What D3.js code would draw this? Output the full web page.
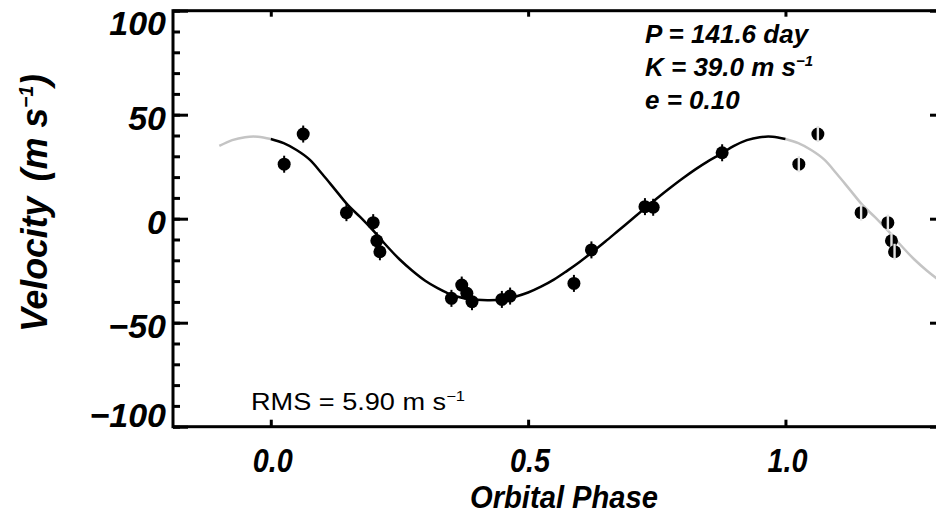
<!DOCTYPE html>
<html>
<head>
<script src="https://cdnjs.cloudflare.com/ajax/libs/d3/7.8.5/d3.min.js"></script>
<style>
  body { margin: 0; background: #fff; }
  text { font-family: "Liberation Sans", Arial, sans-serif; }
</style>
</head>
<body>
<svg id="chart" width="936" height="519"></svg>
<script>
// measured radial velocities, folded on orbital phase
const phase = [0.026, 0.063, 0.147, 0.199, 0.206, 0.212, 0.351, 0.371, 0.381, 0.391, 0.449, 0.465, 0.589, 0.623, 0.727, 0.743, 0.877]
const velocity = [26.2, 40.7, 2.9, -1.9, -10.6, -15.9, -38.3, -31.9, -35.9, -39.9, -38.8, -37.2, -31.1, -15.0, 5.8, 5.5, 31.7]

// orbit fit, one period
const modelPhase = [0, 0.025, 0.05, 0.075, 0.1, 0.125, 0.15, 0.175, 0.2, 0.225, 0.25, 0.275, 0.3, 0.325, 0.35, 0.375, 0.4, 0.425, 0.45, 0.475,
  0.5, 0.525, 0.55, 0.575, 0.6, 0.625, 0.65, 0.675, 0.7, 0.725, 0.75, 0.775, 0.8, 0.825, 0.85, 0.875, 0.9, 0.925, 0.95, 0.975, 1.0]
const modelVelocity = [38.3, 36.3, 33.0, 28.5, 21.5, 14.0, 6.5, 0.5, -6.0, -13.0, -19.5, -25.0, -29.8, -33.5, -36.5, -38.2, -39.0, -39.2, -38.8, -37.5,
  -35.5, -32.7, -29.3, -25.2, -20.8, -16.0, -11.0, -5.8, -0.6, 4.6, 9.7, 14.6, 19.3, 23.7, 27.7, 31.2, 35.0, 37.8, 39.2, 39.4, 38.3]

const yTicks = [-100, -50, 0, 50, 100]
const yMinorTicks = d3.range(-100, 101, 10)
const xTicks = [0.0, 0.5, 1.0]
const xTickLabels = ["0.0", "0.5", "1.0"]
const fitLines = [["P = 141.6 day", ""], ["K = 39.0 m s", "\u22121"], ["e = 0.10", ""]]

const svg = d3.select("#chart")
const plotLeft = 173, plotRight = 945, plotTop = 10.7, plotBottom = 426.7
const x = d3.scaleLinear().domain([-0.19, 1.31]).range([plotLeft, plotRight])
const y = d3.scaleLinear().domain([-100, 100]).range([plotBottom, plotTop])

svg.append("defs").append("clipPath").attr("id", "plotArea")
  .append("rect").attr("x", plotLeft).attr("y", plotTop).attr("width", plotRight - plotLeft).attr("height", plotBottom - plotTop)

// model curve: black over the folded period, grey for the repeated parts
const line = d3.line().x(d => x(d[0])).y(d => y(d[1])).curve(d3.curveCatmullRom.alpha(0.5))
const model = modelPhase.map((p, i) => [p, modelVelocity[i]])
const before = model.filter(d => d[0] >= 0.9).map(d => [d[0] - 1, d[1]])
const after = model.filter(d => d[0] <= 0.4).map(d => [d[0] + 1, d[1]])
const curves = svg.append("g").attr("clip-path", "url(#plotArea)")
curves.append("path").attr("d", line(before)).attr("fill", "none").attr("stroke", "#c4c4c4").attr("stroke-width", 2.5)
curves.append("path").attr("d", line(after)).attr("fill", "none").attr("stroke", "#c4c4c4").attr("stroke-width", 2.5)
curves.append("path").attr("d", line(model)).attr("fill", "none").attr("stroke", "#000").attr("stroke-width", 2.5)

// points
const pts = phase.map((p, i) => ({ p: p, v: velocity[i] }))
const g = svg.append("g")
pts.forEach(d => {
  g.append("line").attr("x1", x(d.p)).attr("x2", x(d.p)).attr("y1", y(d.v) - 8.5).attr("y2", y(d.v) + 8.5)
    .attr("stroke", "#000").attr("stroke-width", 2)
  g.append("circle").attr("cx", x(d.p)).attr("cy", y(d.v)).attr("r", 6.5).attr("fill", "#000")
})
// repeated points past phase 1
pts.filter(d => d.p + 1 <= 1.3).forEach(d => {
  g.append("circle").attr("cx", x(d.p + 1)).attr("cy", y(d.v)).attr("r", 6.5).attr("fill", "#000")
  g.append("line").attr("x1", x(d.p + 1)).attr("x2", x(d.p + 1)).attr("y1", y(d.v) - 8).attr("y2", y(d.v) + 8)
    .attr("stroke", "#e4e4e4").attr("stroke-width", 2.4)
})

// frame
svg.append("rect").attr("x", plotLeft).attr("y", plotTop).attr("width", plotRight - plotLeft).attr("height", plotBottom - plotTop)
  .attr("fill", "none").attr("stroke", "#000").attr("stroke-width", 3)

function ticks(axis, tx, ty) {
  const a = svg.append("g").attr("transform", `translate(${tx},${ty})`).call(axis)
  a.select(".domain").remove()
  a.selectAll(".tick line").attr("stroke", "#000").attr("stroke-width", 3)
}
ticks(d3.axisRight(y).tickValues(yMinorTicks).tickSize(7).tickFormat(""), plotLeft, 0)
ticks(d3.axisRight(y).tickValues(yTicks).tickSize(15).tickFormat(""), plotLeft, 0)
ticks(d3.axisLeft(y).tickValues(yMinorTicks).tickSize(7).tickFormat(""), plotRight, 0)
ticks(d3.axisLeft(y).tickValues(yTicks).tickSize(15).tickFormat(""), plotRight, 0)
ticks(d3.axisTop(x).tickValues(xTicks).tickSize(7).tickFormat(""), 0, plotBottom)
ticks(d3.axisBottom(x).tickValues(xTicks).tickSize(6).tickFormat(""), 0, plotTop)

// tick labels
yTicks.forEach(v => {
  let by = y(v) + 15
  if (v === 100) by = 35
  if (v === -100) by = 427
  svg.append("text").attr("x", 166).attr("y", by).attr("text-anchor", "end")
    .attr("font-size", 34).attr("font-weight", "bold").attr("font-style", "italic")
    .text(v < 0 ? "\u2212" + Math.abs(v) : String(v))
})
xTicks.forEach((v, i) => {
  svg.append("text").attr("x", x(v) + 2).attr("y", 472).attr("text-anchor", "middle")
    .attr("font-size", 34).attr("font-weight", "bold").attr("font-style", "italic")
    .attr("textLength", 40).attr("lengthAdjust", "spacingAndGlyphs")
    .text(xTickLabels[i])
})

// axis titles
svg.append("text").attr("x", 564).attr("y", 508).attr("text-anchor", "middle")
  .attr("font-size", 32).attr("font-weight", "bold").attr("font-style", "italic")
  .attr("textLength", 188).attr("lengthAdjust", "spacingAndGlyphs")
  .text("Orbital Phase")

const yt = svg.append("text").attr("transform", "translate(47,203) rotate(-90)").attr("text-anchor", "middle")
  .attr("font-size", 37).attr("font-weight", "bold").attr("font-style", "italic")
  .attr("textLength", 258).attr("lengthAdjust", "spacingAndGlyphs")
yt.append("tspan").text("Velocity")
yt.append("tspan").attr("dx", 16).text("(m s")
yt.append("tspan").attr("dy", -14).attr("font-size", 20).text("\u22121")
yt.append("tspan").attr("dy", 14).text(")")

// fit parameters
fitLines.forEach((l, i) => {
  const t = svg.append("text").attr("x", 645).attr("y", 43 + i * 33)
    .attr("font-size", 26).attr("font-weight", "bold").attr("font-style", "italic")
  t.append("tspan").text(l[0])
  if (l[1]) t.append("tspan").attr("dy", -10).attr("font-size", 15).text(l[1])
})

const rms = svg.append("text").attr("x", 251).attr("y", 410).attr("font-size", 23)
  .attr("textLength", 214).attr("lengthAdjust", "spacingAndGlyphs")
rms.append("tspan").text("RMS = 5.90 m s")
rms.append("tspan").attr("dy", -9).attr("font-size", 14).text("\u22121")
</script>
</body>
</html>
